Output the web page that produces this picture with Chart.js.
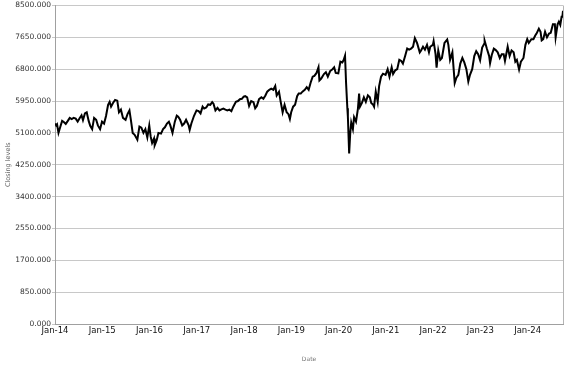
<!DOCTYPE html>
<html>
<head>
<meta charset="utf-8">
<script src="https://cdn.jsdelivr.net/npm/chart.js@4/dist/chart.umd.min.js"></script>
<style>
  html, body { margin: 0; padding: 0; background: #fff; }
</style>
</head>
<body>
<canvas id="closingChart" width="577" height="367"></canvas>
<script>
// closing levels, roughly two readings a month
const dates = [
  '2014-01-02','2014-01-10','2014-01-17','2014-01-28','2014-02-10','2014-02-25','2014-03-10','2014-03-25',
  '2014-04-10','2014-04-25','2014-05-10','2014-05-25','2014-06-10','2014-06-25','2014-07-10','2014-07-25',
  '2014-08-05','2014-08-20','2014-09-03','2014-09-18','2014-09-30','2014-10-15','2014-10-30','2014-11-15',
  '2014-11-28','2014-12-15','2014-12-30',
  '2015-01-15','2015-01-30','2015-02-15','2015-02-27','2015-03-10','2015-03-25','2015-04-10','2015-04-27',
  '2015-05-10','2015-05-25','2015-06-10','2015-06-30','2015-07-15','2015-07-30','2015-08-10','2015-08-24',
  '2015-09-08','2015-09-29','2015-10-15','2015-10-30','2015-11-15','2015-11-30','2015-12-15','2015-12-30',
  '2016-01-10','2016-01-21','2016-02-05','2016-02-10','2016-02-25','2016-03-10','2016-03-30','2016-04-15',
  '2016-04-29','2016-05-15','2016-05-30','2016-06-10','2016-06-27','2016-07-15','2016-07-30','2016-08-10',
  '2016-08-25','2016-09-10','2016-09-25','2016-10-10','2016-10-30','2016-11-07','2016-11-20','2016-12-10',
  '2016-12-30',
  '2017-01-15','2017-01-30','2017-02-15','2017-02-27','2017-03-15','2017-03-30','2017-04-15','2017-04-30',
  '2017-05-10','2017-05-25','2017-06-10','2017-06-25','2017-07-10','2017-07-25','2017-08-10','2017-08-25',
  '2017-09-10','2017-09-25','2017-10-10','2017-10-30','2017-11-15','2017-11-30','2017-12-15','2017-12-29',
  '2018-01-10','2018-01-25','2018-02-09','2018-02-25','2018-03-15','2018-03-28','2018-04-10','2018-04-27',
  '2018-05-15','2018-05-30','2018-06-15','2018-06-29','2018-07-15','2018-07-30','2018-08-15','2018-08-30',
  '2018-09-10','2018-09-28','2018-10-10','2018-10-26','2018-11-10','2018-11-26','2018-12-10','2018-12-21',
  '2018-12-31',
  '2019-01-15','2019-01-30','2019-02-15','2019-02-27','2019-03-15','2019-03-28','2019-04-15','2019-04-30',
  '2019-05-15','2019-05-30','2019-06-15','2019-06-28','2019-07-15','2019-07-30','2019-08-06','2019-08-20',
  '2019-09-10','2019-09-25','2019-10-10','2019-10-28','2019-11-15','2019-11-28','2019-12-10','2019-12-30',
  '2020-01-15','2020-01-30','2020-02-10','2020-02-20','2020-02-28','2020-03-09','2020-03-13','2020-03-23',
  '2020-03-31','2020-04-08','2020-04-21','2020-04-30','2020-05-15','2020-05-30','2020-06-08','2020-06-15',
  '2020-06-30','2020-07-15','2020-07-30','2020-08-15','2020-08-30','2020-09-10','2020-09-25','2020-10-02',
  '2020-10-15','2020-10-30','2020-11-10','2020-11-25','2020-12-10','2020-12-30',
  '2021-01-15','2021-01-29','2021-02-15','2021-02-26','2021-03-15','2021-03-30','2021-04-15','2021-04-30',
  '2021-05-13','2021-05-30','2021-06-15','2021-06-30','2021-07-15','2021-07-30','2021-08-13','2021-08-30',
  '2021-09-20','2021-09-30','2021-10-15','2021-10-30','2021-11-15','2021-11-30','2021-12-10','2021-12-30',
  '2022-01-05','2022-01-20','2022-01-28','2022-02-10','2022-02-25','2022-03-10','2022-03-30','2022-04-20',
  '2022-04-29','2022-05-12','2022-05-30','2022-06-17','2022-06-30','2022-07-15','2022-07-30','2022-08-15',
  '2022-08-30','2022-09-15','2022-09-30','2022-10-13','2022-10-30','2022-11-15','2022-11-30','2022-12-15',
  '2022-12-30',
  '2023-01-15','2023-01-31','2023-02-03','2023-02-20','2023-03-10','2023-03-17','2023-03-30','2023-04-15',
  '2023-04-30','2023-05-15','2023-05-31','2023-06-15','2023-06-30','2023-07-10','2023-07-31','2023-08-15',
  '2023-08-30','2023-09-15','2023-09-28','2023-10-10','2023-10-27','2023-11-10','2023-11-30','2023-12-15',
  '2023-12-29',
  '2024-01-10','2024-01-30','2024-02-15','2024-02-29','2024-03-10','2024-03-28','2024-04-10','2024-04-19',
  '2024-05-01','2024-05-15','2024-05-30','2024-06-15','2024-06-28','2024-07-15','2024-07-30','2024-08-05',
  '2024-08-20','2024-08-30','2024-09-10','2024-09-20','2024-09-26','2024-10-01'
];

const closes = [
  5350, 5300, 5330, 5100, 5250, 5420, 5390, 5340,
  5420, 5500, 5470, 5500, 5480, 5400, 5490, 5570,
  5440, 5620, 5650, 5420, 5290, 5200, 5500, 5450,
  5300, 5200, 5400,
  5350, 5550, 5850, 5930, 5800, 5900, 5980, 5960,
  5650, 5720, 5500, 5450, 5600, 5700, 5450, 5100,
  5050, 4920, 5270, 5240, 5100, 5200, 4980, 5300,
  5000, 4830, 4950, 4770, 4900, 5100, 5080, 5200,
  5250, 5350, 5400, 5300, 5100, 5400, 5560, 5530,
  5450, 5300, 5350, 5450, 5300, 5180, 5350, 5550,
  5700,
  5680, 5620, 5800, 5750, 5780, 5860, 5850, 5920,
  5880, 5700, 5770, 5700, 5730, 5750, 5720, 5700,
  5720, 5680, 5800, 5930, 5950, 6000, 6010, 6070,
  6080, 6050, 5820, 5950, 5920, 5760, 5820, 6000,
  6050, 6010, 6100, 6200, 6250, 6280, 6250, 6350,
  6100, 6200, 5950, 5650, 5850, 5650, 5600, 5470,
  5650,
  5800, 5850, 6080, 6150, 6150, 6200, 6250, 6320,
  6250, 6440, 6600, 6620, 6700, 6850, 6500, 6550,
  6670, 6720, 6600, 6750, 6800, 6850, 6700, 6690,
  7000, 6980, 7050, 7160, 6440, 5760, 5540, 4550,
  5080, 5380, 5200, 5520, 5400, 5750, 6150, 5800,
  5900, 6050, 5930, 6100, 6050, 5900, 5850, 5800,
  6200, 5930, 6350, 6600, 6680, 6650,
  6800, 6600, 6850, 6670, 6770, 6800, 7050, 7020,
  6950, 7150, 7350, 7320, 7350, 7400, 7630, 7500,
  7250, 7300, 7400, 7320, 7450, 7250, 7400, 7450,
  7550, 7200, 6840, 7300, 7050, 7100, 7500, 7590,
  7450, 7050, 7250, 6430, 6570, 6650, 6950, 7100,
  6980, 6800, 6470, 6650, 6800, 7150, 7280, 7200,
  7040,
  7380, 7480, 7560, 7350, 7150, 6960, 7180, 7350,
  7310, 7250, 7100, 7200, 7200, 7020, 7400, 7150,
  7300, 7250, 7000, 7050, 6790, 7000, 7100, 7450,
  7600,
  7500, 7600, 7600, 7700, 7750, 7880, 7800, 7570,
  7600, 7800, 7650, 7750, 7770, 8000, 8000, 7650,
  8000, 8070, 7980, 8200, 8200, 8360
];

const yearLabels = ['Jan-14', 'Jan-15', 'Jan-16', 'Jan-17', 'Jan-18', 'Jan-19',
  'Jan-20', 'Jan-21', 'Jan-22', 'Jan-23', 'Jan-24'];
const firstYear = 2014;

// date string -> fractional year
function toYear(s) {
  const d = new Date(s + 'T00:00:00Z');
  const y = d.getUTCFullYear();
  const start = Date.UTC(y, 0, 1);
  const end = Date.UTC(y + 1, 0, 1);
  return y + (d.getTime() - start) / (end - start);
}

const points = dates.map((d, i) => ({ x: toYear(d), y: closes[i] }));

// grey frame line on the right side of the plot
const rightBorder = {
  id: 'rightBorder',
  afterDraw(chart) {
    const { ctx, chartArea } = chart;
    ctx.save();
    ctx.strokeStyle = '#b4b4b4';
    ctx.lineWidth = 1;
    ctx.beginPath();
    ctx.moveTo(Math.round(chartArea.right) + 0.5, chartArea.top);
    ctx.lineTo(Math.round(chartArea.right) + 0.5, chartArea.bottom);
    ctx.stroke();
    ctx.restore();
  }
};

const ctx = document.getElementById('closingChart').getContext('2d');
new Chart(ctx, {
  type: 'line',
  data: {
    datasets: [{
      label: 'Closing levels',
      data: points,
      borderColor: '#000',
      borderWidth: 2,
      pointRadius: 0,
      tension: 0,
      fill: false
    }]
  },
  options: {
    responsive: false,
    animation: false,
    layout: { padding: { top: 3, right: 14, left: 0, bottom: 0 } },
    plugins: {
      legend: { display: false },
      tooltip: { enabled: false }
    },
    scales: {
      x: {
        type: 'linear',
        min: firstYear,
        max: points[points.length - 1].x,
        afterFit: s => { s.height = 43; },
        grid: { drawOnChartArea: false, drawTicks: false },
        border: { color: '#a0a0a0' },
        ticks: {
          stepSize: 1,
          includeBounds: false,
          autoSkip: false,
          maxRotation: 0,
          padding: 2,
          color: '#111',
          font: { family: 'DejaVu Sans', size: 8.5 },
          callback: v => yearLabels[v - firstYear]
        },
        title: {
          display: true,
          text: 'Date',
          color: '#777',
          font: { family: 'DejaVu Sans', size: 6 }
        }
      },
      y: {
        min: 0,
        max: 8500,
        afterFit: s => { s.width = 55; },
        grid: { color: '#c8c8c8', tickLength: 3 },
        border: { color: '#a0a0a0' },
        ticks: {
          stepSize: 850,
          padding: 1,
          color: '#333',
          font: { family: 'DejaVu Sans', size: 7.5 },
          callback: v => v.toFixed(3)
        },
        title: {
          display: true,
          text: 'Closing levels',
          color: '#666',
          font: { family: 'DejaVu Sans', size: 6.5 }
        }
      }
    }
  },
  plugins: [rightBorder]
});
</script>
</body>
</html>
